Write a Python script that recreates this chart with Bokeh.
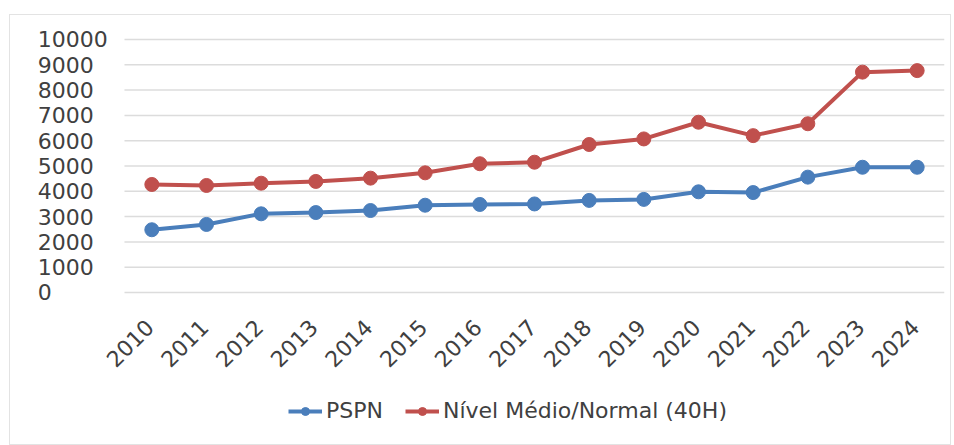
import math
from bokeh.plotting import figure
from bokeh.models import ColumnDataSource, Range1d, Legend, LegendItem
from bokeh.core.properties import value
from bokeh.embed import file_html
from bokeh.resources import INLINE

years = [2010, 2011, 2012, 2013, 2014, 2015, 2016, 2017,
         2018, 2019, 2020, 2021, 2022, 2023, 2024]
pspn = [2480, 2690, 3110, 3160, 3240, 3450, 3480, 3500, 3640, 3680, 3980, 3950, 4560, 4950, 4950]
nivel = [4270, 4230, 4320, 4390, 4520, 4730, 5090, 5150, 5850, 6070, 6730, 6200, 6670, 8710, 8770]
y_ticks = [0, 1000, 2000, 3000, 4000, 5000, 6000, 7000, 8000, 9000, 10000]
y_tick_labels = [str(t) for t in y_ticks]
year_labels = [str(y) for y in years]
series_names = ["PSPN", "Nível Médio/Normal (40H)"]

BLUE = "#4A7EBB"
RED = "#C0504D"
GRID = "#dcdcdc"
FONT = "DejaVu Sans"
TXT = "#404040"

src = ColumnDataSource(dict(year=years, label=year_labels, pspn=pspn, nivel=nivel,
                            base=[0] * len(years)))
n = len(y_ticks)
grid_src = ColumnDataSource(dict(x0=[years[0] - 0.5] * n, x1=[years[-1] + 0.5] * n,
                                 y=y_ticks, label=y_tick_labels, xl=[years[0]] * n))

# The frame covers the whole chart so that the value labels, the rotated year
# labels and the legend are all drawn through the same scales.
p = figure(x_range=Range1d(2007.415, 2024.5), y_range=Range1d(-6008, 10948.6),
           frame_width=934, frame_height=429,
           output_backend="svg", toolbar_location=None,
           min_border_left=0, min_border_top=0, min_border_right=6, min_border_bottom=0)
p.styles = {"border": "1px solid #e3e3e3", "margin-left": "9px", "margin-top": "14px"}
p.outline_line_color = None
p.background_fill_color = "white"
p.border_fill_color = "white"
p.xaxis.visible = False
p.yaxis.visible = False
p.grid.visible = False

# horizontal gridlines at the value ticks
p.segment(x0="x0", x1="x1", y0="y", y1="y", source=grid_src, line_color=GRID, line_width=1.5)

# value labels (left aligned, as in the original)
p.text(x="xl", y="y", text="label", source=grid_src, x_offset=-114,
       text_align="left", text_baseline="middle",
       text_font=value(FONT), text_font_size=value("22px"), text_color=TXT)

# year labels, rotated 45 degrees under the baseline
p.text(x="year", y="base", text="label", source=src, angle=math.pi / 4,
       text_align="right", text_baseline="middle", x_offset=-2, y_offset=31,
       text_font=value(FONT), text_font_size=value("22px"), text_color=TXT)

l1 = p.line("year", "pspn", source=src, line_color=BLUE, line_width=4)
s1 = p.scatter("year", "pspn", source=src, size=14, fill_color=BLUE, line_color=BLUE)
l2 = p.line("year", "nivel", source=src, line_color=RED, line_width=4)
s2 = p.scatter("year", "nivel", source=src, size=14, fill_color=RED, line_color=RED)

legend = Legend(items=[LegendItem(label=series_names[0], renderers=[l1, s1]),
                       LegendItem(label=series_names[1], renderers=[l2, s2])],
                orientation="horizontal", location=(278, 21),
                label_text_font=FONT, label_text_font_size="22px",
                label_text_color=TXT, glyph_width=34, glyph_height=20,
                label_standoff=4, spacing=22, padding=0, margin=0,
                border_line_color=None, background_fill_alpha=0)
p.add_layout(legend, "center")

open("out.html", "w").write(file_html(p, INLINE))
